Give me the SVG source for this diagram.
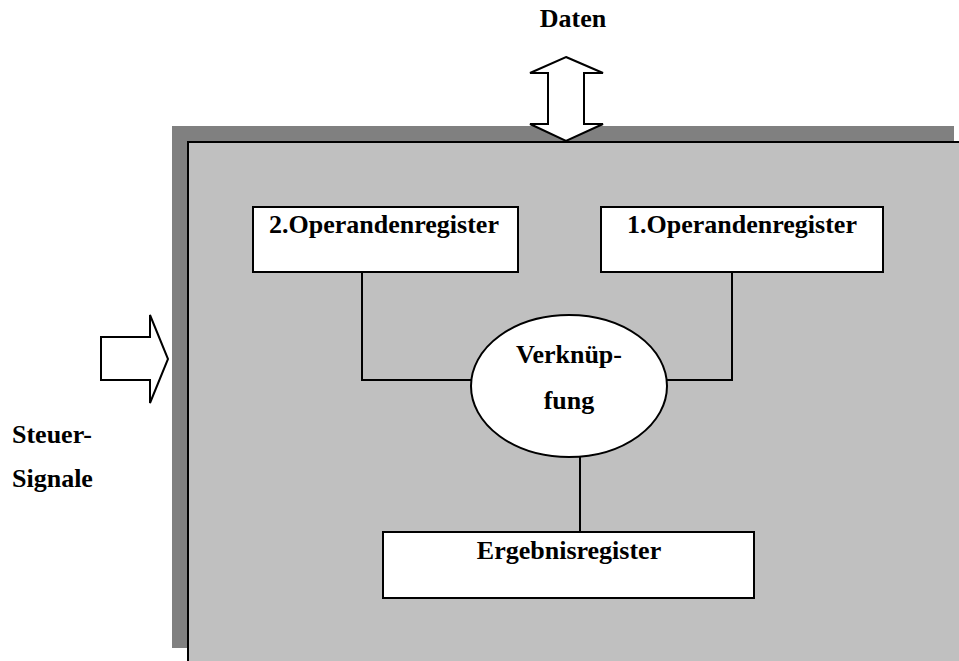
<svg xmlns="http://www.w3.org/2000/svg" width="959" height="661" viewBox="0 0 959 661">
<style>
text{font-family:"Liberation Serif","Times New Roman",serif;font-weight:bold;font-size:26px;fill:#000}
.c{text-anchor:middle}
.box{fill:#fff;stroke:#000;stroke-width:2}
.ln{fill:none;stroke:#000;stroke-width:2}
.arr{fill:#fff;stroke:#000;stroke-width:2;stroke-linejoin:miter}
</style>
<rect width="959" height="661" fill="#fff"/>
<g id="alu">
<rect x="172" y="126" width="782" height="522" fill="#808080"/>
<rect x="188" y="142" width="790" height="540" fill="#c0c0c0" stroke="#000" stroke-width="2"/>
</g>
<g id="daten">
<polygon class="arr" points="566,57 603,73 584,73 584,124 603,124 566,141 530,124 548,124 548,73 530,73"/>
<text class="c" x="573" y="27">Daten</text>
</g>
<g id="steuer">
<polygon class="arr" points="101,337 150,337 150,315 168,359 150,403 150,380 101,380"/>
<text x="12" y="443">Steuer-</text>
<text x="12" y="487">Signale</text>
</g>
<g id="connectors">
<polyline class="ln" points="362,272 362,380 472,380"/>
<polyline class="ln" points="732,272 732,380 666,380"/>
<line class="ln" x1="580" y1="457" x2="580" y2="532"/>
</g>
<g id="op2">
<rect class="box" x="253" y="207" width="265" height="65"/>
<text class="c" x="384" y="233">2.Operandenregister</text>
</g>
<g id="op1">
<rect class="box" x="601" y="207" width="282" height="65"/>
<text class="c" x="742" y="233">1.Operandenregister</text>
</g>
<g id="verknuepfung">
<ellipse class="box" cx="569" cy="386" rx="98" ry="71"/>
<text class="c" x="569" y="363">Verknüp-</text>
<text class="c" x="569" y="409">fung</text>
</g>
<g id="ergebnis">
<rect class="box" x="383" y="532" width="371" height="66"/>
<text class="c" x="569" y="559">Ergebnisregister</text>
</g>
</svg>
